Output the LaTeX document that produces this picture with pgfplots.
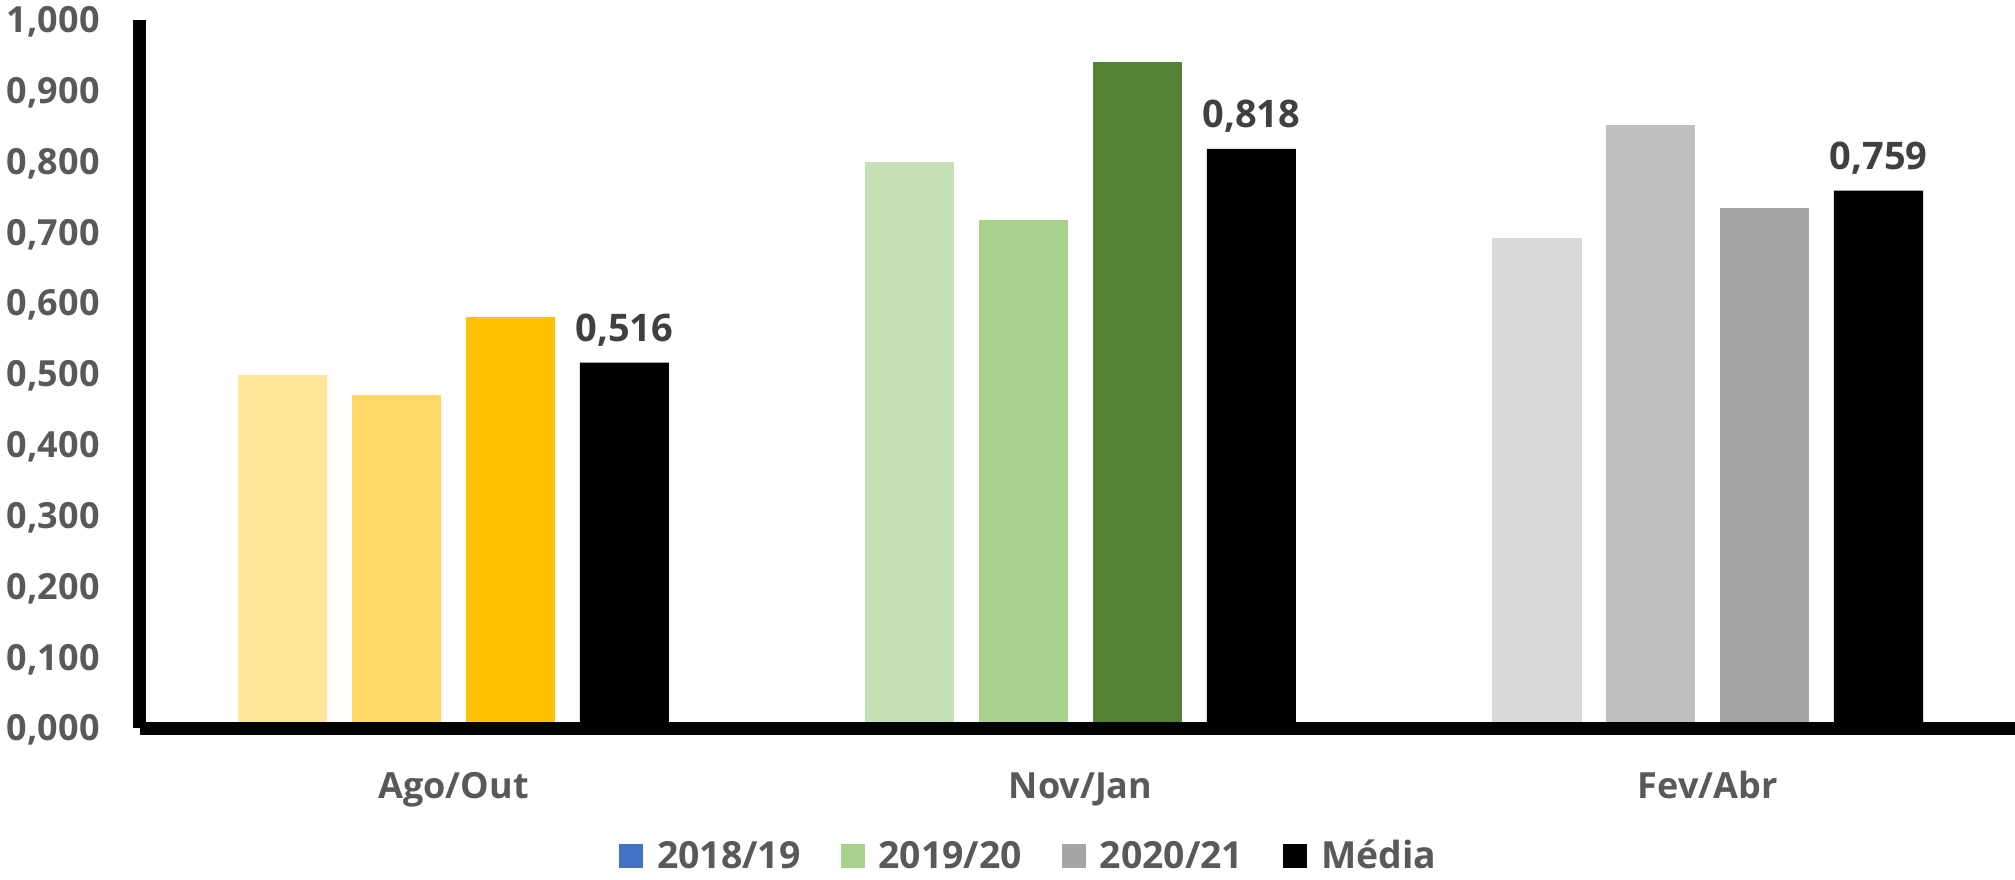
\documentclass[border=0pt]{standalone}
\usepackage{fontspec}
\setmainfont{Open Sans}
\usepackage{pgfplots}
\pgfplotsset{compat=1.18}
\definecolor{agoA}{HTML}{FFE699}
\definecolor{agoB}{HTML}{FFD966}
\definecolor{agoC}{HTML}{FFC000}
\definecolor{novA}{HTML}{C5E0B4}
\definecolor{novB}{HTML}{A9D18E}
\definecolor{novC}{HTML}{548235}
\definecolor{fevA}{HTML}{D9D9D9}
\definecolor{fevB}{HTML}{BFBFBF}
\definecolor{fevC}{HTML}{A5A5A5}
\definecolor{legblue}{HTML}{4472C4}
\definecolor{leggreen}{HTML}{A9D18E}
\definecolor{leggray}{HTML}{A5A5A5}
\definecolor{tickgray}{HTML}{595959}
\definecolor{labgray}{HTML}{404040}
\begin{document}
\begin{tikzpicture}
\begin{axis}[
  at={(0pt,0pt)}, anchor=south west,
  scale only axis, width=937.5pt, height=354pt,
  xmin=-0.5, xmax=2.49, ymin=0, ymax=1,
  axis lines*=left,
  axis line style={line width=6.5pt, black},
  axis on top,
  xtick={0,1,2}, xticklabels={Ago/Out,Nov/Jan,Fev/Abr},
  ytick={0,0.1,0.2,0.3,0.4,0.5,0.6,0.7,0.8,0.9,1},
  major tick length=0pt,
  /pgf/number format/fixed,
  /pgf/number format/fixed zerofill,
  /pgf/number format/precision=3,
  /pgf/number format/use comma,
  /pgf/number format/assume math mode=true,
  tick label style={font=\fontsize{18}{20}\selectfont\bfseries, text=tickgray},
  yticklabel style={anchor=base east, inner sep=0pt, xshift=-20pt, yshift=-6.4pt},
  xticklabel style={anchor=base, inner sep=0pt, yshift=-35pt, font=\fontsize{18}{20}\selectfont\bfseries},
  legend columns=4,
  legend style={at={(0.4745,-0.1808)}, anchor=center, draw=none, fill=none,
    inner sep=0pt, font=\fontsize{18.7}{20}\selectfont\bfseries, text=tickgray,
    cells={anchor=base west, inner sep=0pt},
    /tikz/every odd column/.append style={column sep=5pt},
    /tikz/every even column/.append style={column sep=18pt}},
]
% Ago/Out
\addplot[ybar, bar width=0.142, bar shift=-0.2723, fill=agoA, draw=none, forget plot] coordinates {(0,0.498)};
\addplot[ybar, bar width=0.142, bar shift=-0.0908, fill=agoB, draw=none, forget plot] coordinates {(0,0.470)};
\addplot[ybar, bar width=0.142, bar shift=0.0908, fill=agoC, draw=none, forget plot] coordinates {(0,0.580)};
% Nov/Jan
\addplot[ybar, bar width=0.142, bar shift=-0.2723, fill=novA, draw=none, forget plot] coordinates {(1,0.799)};
\addplot[ybar, bar width=0.142, bar shift=-0.0908, fill=novB, draw=none, forget plot] coordinates {(1,0.717)};
\addplot[ybar, bar width=0.142, bar shift=0.0908, fill=novC, draw=none, forget plot] coordinates {(1,0.940)};
% Fev/Abr
\addplot[ybar, bar width=0.142, bar shift=-0.2723, fill=fevA, draw=none, forget plot] coordinates {(2,0.692)};
\addplot[ybar, bar width=0.142, bar shift=-0.0908, fill=fevB, draw=none, forget plot] coordinates {(2,0.851)};
\addplot[ybar, bar width=0.142, bar shift=0.0908, fill=fevC, draw=none, forget plot] coordinates {(2,0.735)};
% Media
\addplot[ybar, bar width=0.142, bar shift=0.2723, fill=black, draw=none, forget plot,
  point meta=y, nodes near coords,
  nodes near coords style={font=\fontsize{19}{21}\selectfont\bfseries, text=labgray, anchor=base, inner sep=0pt, xshift=85.4pt, yshift=10.8pt}]
  coordinates {(0,0.516) (1,0.818) (2,0.759)};
\addlegendimage{legend image code/.code={\fill[legblue] (0pt,0.65pt) rectangle (11.5pt,12.15pt);}}
\addlegendentry{2018/19}
\addlegendimage{legend image code/.code={\fill[leggreen] (0pt,0.65pt) rectangle (11.5pt,12.15pt);}}
\addlegendentry{2019/20}
\addlegendimage{legend image code/.code={\fill[leggray] (0pt,0.65pt) rectangle (11.5pt,12.15pt);}}
\addlegendentry{2020/21}
\addlegendimage{legend image code/.code={\fill[black] (0pt,0.65pt) rectangle (11.5pt,12.15pt);}}
\addlegendentry{Média}
\end{axis}
\pgfresetboundingbox
\useasboundingbox (-70pt,-75.5pt) rectangle (937.5pt,364pt);
\end{tikzpicture}
\end{document}
